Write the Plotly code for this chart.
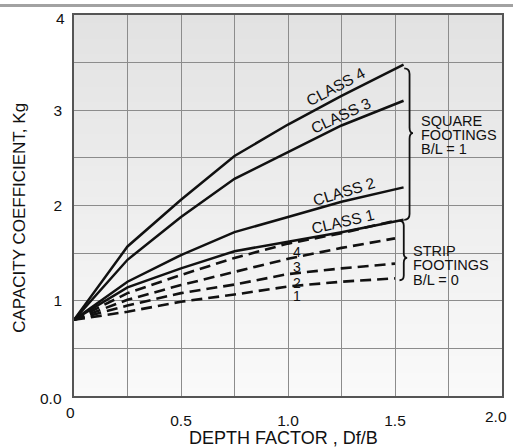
import numpy as np
import plotly.graph_objects as go

# ---------------- data ----------------
depth_solid = [0, 0.25, 0.5, 0.75, 1.0, 1.25, 1.54]
depth_dashed = [0, 0.25, 0.5, 0.75, 1.0, 1.25, 1.5]

square_class4 = [0.8, 1.57, 2.06, 2.52, 2.85, 3.15, 3.48]
square_class3 = [0.8, 1.43, 1.88, 2.28, 2.56, 2.84, 3.10]
square_class2 = [0.8, 1.20, 1.48, 1.72, 1.88, 2.04, 2.19]
square_class1 = [0.8, 1.14, 1.34, 1.52, 1.62, 1.72, 1.85]

strip_class4 = [0.8, 1.08, 1.27, 1.45, 1.60, 1.71, 1.84]
strip_class3 = [0.8, 1.01, 1.165, 1.30, 1.44, 1.555, 1.655]
strip_class2 = [0.8, 0.95, 1.08, 1.17, 1.28, 1.34, 1.39]
strip_class1 = [0.8, 0.885, 0.99, 1.065, 1.15, 1.20, 1.235]

square_names = ["CLASS 4", "CLASS 3", "CLASS 2", "CLASS 1"]
strip_names = ["4", "3", "2", "1"]

x_tick_vals = [0, 0.25, 0.5, 0.75, 1.0, 1.25, 1.5, 1.75, 2.0]
x_tick_text = ["", "", "0.5", "", "1.0", "", "1.5", "", ""]
y_tick_vals = [0, 0.5, 1, 1.5, 2, 2.5, 3, 3.5, 4]
y_tick_text = ["", "", "1", "", "2", "", "3", "", ""]

# ---------------- style ----------------
FONT = "Liberation Sans, Arial, Helvetica, sans-serif"
INK = "#111111"
W, H = 513, 448
ML, MR, MT, MB = 74, 11, 15, 52
TICK = 15.5

fig = go.Figure()

square_series = [square_class4, square_class3, square_class2, square_class1]
strip_series = [strip_class4, strip_class3, strip_class2, strip_class1]

for name, ys in zip(square_names, square_series):
    fig.add_trace(go.Scatter(x=depth_solid, y=ys, mode="lines", name=name,
                             line=dict(color=INK, width=2.5), showlegend=False))
for name, ys in zip(strip_names, strip_series):
    fig.add_trace(go.Scatter(x=depth_dashed, y=ys, mode="lines", name="strip " + name,
                             line=dict(color=INK, width=2.6, dash="11px,6px"),
                             showlegend=False))

shapes = []
# gradient background (bands, below grid)
nb = 48
for i in range(nb):
    t = (i + 0.5) / nb
    c = int(round(250 - (250 - 226) * t))
    shapes.append(dict(type="rect", xref="paper", yref="paper", x0=0, x1=1,
                       y0=i / nb, y1=(i + 1) / nb + 0.002, layer="below",
                       line=dict(width=0), fillcolor=f"rgb({c},{c},{c})"))


def brace(x, y0, y1, ytip, wend, wtip, r):
    return (f"M {x - wend},{y1} Q {x},{y1} {x},{y1 - r} "
            f"L {x},{ytip + r} Q {x},{ytip} {x + wtip},{ytip} "
            f"Q {x},{ytip} {x},{ytip - r} "
            f"L {x},{y0 + r} Q {x},{y0} {x - wend},{y0}")


shapes.append(dict(type="path", xref="x", yref="y",
                   path=brace(1.568, square_class1[-1], square_class4[-1] - 0.04, 2.76,
                              0.025, 0.016, 0.06),
                   line=dict(color=INK, width=1.8)))
shapes.append(dict(type="path", xref="x", yref="y",
                   path=brace(1.541, strip_class1[-1] - 0.02, strip_class4[-1], 1.45,
                              0.02, 0.016, 0.05),
                   line=dict(color=INK, width=1.8)))

annotations = []


def label(**kw):
    base = dict(showarrow=False, xanchor="center", yanchor="middle")
    base.update(kw)
    annotations.append(base)


# grey rule across the top of the page
label(x=0.43, y=1.0255, xref="paper", yref="paper", text=" ", width=540, height=3,
      bgcolor="#a2a2a2", borderpad=0, borderwidth=0, font=dict(size=1))

# class labels along the square-footing curves
class_label_pos = [(1.224, -28, 12), (1.247, -25, 10), (1.26, -17, 10), (1.256, -13, 10)]
for name, ys, (xl, ang, sh) in zip(square_names, square_series, class_label_pos):
    yl = float(np.interp(xl, depth_solid, ys))
    label(x=xl, y=yl, xref="x", yref="y", text=name, textangle=ang, yshift=sh,
          font=dict(size=15.5, color=INK, family=FONT))
# numbers under strip-footing curves
for name, ys in zip(strip_names, strip_series):
    yl = float(np.interp(1.042, depth_dashed, ys))
    label(x=1.042, y=yl, xref="x", yref="y", text=name, yanchor="top",
          font=dict(size=14, color=INK, family=FONT))

for txt, yv in [("SQUARE", 2.885), ("FOOTINGS", 2.74), ("B/L = 1", 2.59)]:
    label(x=1.612, y=yv, xref="x", yref="y", text=txt, xanchor="left",
          font=dict(size=14.5, color=INK, family=FONT))
for txt, yv in [("STRIP", 1.527), ("FOOTINGS", 1.374), ("B/L = 0", 1.223)]:
    label(x=1.575, y=yv, xref="x", yref="y", text=txt, xanchor="left",
          font=dict(size=14.5, color=INK, family=FONT))

# edge tick labels
label(x=-0.053, y=-0.007, xref="paper", yref="paper", text="0.0",
      font=dict(size=TICK, color=INK, family=FONT))
label(x=-0.0075, y=-0.043, xref="paper", yref="paper", text="0",
      font=dict(size=TICK, color=INK, family=FONT))
label(x=0.9865, y=-0.055, xref="paper", yref="paper", text="2.0",
      font=dict(size=TICK, color=INK, family=FONT))
label(x=-0.0315, y=0.992, xref="paper", yref="paper", text="4",
      font=dict(size=TICK, color=INK, family=FONT))
# axis titles
label(x=0.49, y=-0.1105, xref="paper", yref="paper", text="DEPTH FACTOR , Df/B",
      font=dict(size=18, color=INK, family=FONT))
label(x=-0.126, y=0.468, xref="paper", yref="paper", text="CAPACITY COEFFICIENT, Kg",
      textangle=-90, font=dict(size=17, color=INK, family=FONT))

axis_common = dict(showgrid=True, gridcolor="#8c8c8c", gridwidth=1, zeroline=False,
                   showline=True, linecolor="#555555", linewidth=1.5, mirror=True,
                   ticks="", automargin=False,
                   tickfont=dict(size=TICK, color=INK, family=FONT))

fig.update_layout(
    template="none",
    width=W, height=H, margin=dict(l=ML, r=MR, t=MT, b=MB, autoexpand=False),
    paper_bgcolor="white", plot_bgcolor="rgba(0,0,0,0)",
    xaxis=dict(range=[0, 2], tickvals=x_tick_vals, ticktext=x_tick_text,
               ticklabelstandoff=10, **axis_common),
    yaxis=dict(range=[0, 4], tickvals=y_tick_vals, ticktext=y_tick_text,
               ticklabelstandoff=7, **axis_common),
    shapes=shapes, annotations=annotations, showlegend=False,
    font=dict(family=FONT, color=INK),
)

fig.write_html("out.html", config={"displayModeBar": False},
               post_script="document.body.style.margin='0';document.body.style.padding='0';")
